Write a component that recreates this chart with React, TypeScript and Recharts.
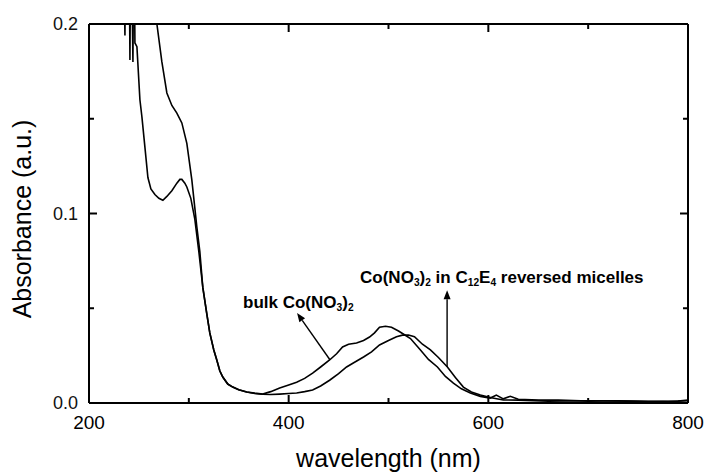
import { LineChart, Line, XAxis, YAxis, ReferenceLine, ReferenceDot } from "recharts";

// wavelength (nm) / absorbance readings, bulk Co(NO3)2
const bulkWavelength = [
    234, 236, 237, 240, 241, 242, 244, 245, 246, 248, 251, 253, 256, 259, 262, 266, 270, 274, 278, 283,
    288, 291, 293, 296, 298, 302, 306, 310, 314, 318, 321, 325, 328, 331, 334, 339, 344, 350, 358, 366,
    374, 382, 391, 400, 408, 416, 424, 432, 441, 448, 454, 460, 468, 475, 481, 486, 491, 497, 503, 510,
    516, 522, 532, 540, 549, 557, 565, 573, 582, 592, 602, 608, 615, 622, 630, 650, 670, 700, 730, 760,
    790, 800,
];
const bulkAbsorbance = [
    0.26, 0.194, 0.26, 0.26, 0.181, 0.26, 0.18, 0.26, 0.19, 0.188, 0.16, 0.151, 0.135, 0.119, 0.113, 0.11, 0.108, 0.107, 0.109, 0.112,
    0.116, 0.118, 0.118, 0.116, 0.114, 0.108, 0.097, 0.08, 0.061, 0.047, 0.037, 0.028, 0.0227, 0.017, 0.0137, 0.01, 0.0084, 0.007, 0.0058, 0.0052,
    0.0047, 0.006, 0.0079, 0.0095, 0.011, 0.013, 0.0158, 0.019, 0.0227, 0.026, 0.0296, 0.031, 0.0317, 0.033, 0.0348, 0.037, 0.04, 0.0405, 0.04, 0.038,
    0.036, 0.034, 0.028, 0.023, 0.019, 0.014, 0.0105, 0.0075, 0.0053, 0.0035, 0.0026, 0.0042, 0.0022, 0.0035, 0.002, 0.0015, 0.0015, 0.001, 0.0012, 0.0008,
    0.001, 0.0015,
];

// Co(NO3)2 in C12E4 reversed micelles
const micelleWavelength = [
    262, 268, 273, 278, 283, 288, 293, 298, 303, 306, 308, 311, 314, 318, 321, 325, 328, 331, 334, 339,
    344, 350, 358, 366, 374, 382, 391, 400, 408, 416, 424, 432, 441, 450, 458, 466, 475, 483, 491, 500,
    508, 514, 520, 526, 534, 542, 550, 559, 567, 575, 583, 592, 603, 615, 630, 660, 700, 740, 780, 800,
];
const micelleAbsorbance = [
    0.23, 0.2, 0.18, 0.1636, 0.157, 0.153, 0.1478, 0.137, 0.1177, 0.103, 0.093, 0.08, 0.061, 0.047, 0.037, 0.028, 0.0227, 0.017, 0.0137, 0.01,
    0.0084, 0.007, 0.0058, 0.005, 0.0046, 0.0045, 0.0047, 0.005, 0.0053, 0.006, 0.0069, 0.009, 0.012, 0.0155, 0.019, 0.0215, 0.0243, 0.027, 0.0306, 0.033,
    0.035, 0.0358, 0.0359, 0.035, 0.031, 0.028, 0.024, 0.019, 0.0135, 0.0084, 0.0058, 0.0042, 0.0028, 0.0016, 0.0015, 0.001, 0.0012, 0.001, 0.0008, 0.0012,
];

const xTicks = [200, 300, 400, 500, 600, 700, 800];
const yTicks = [0, 0.05, 0.1, 0.15, 0.2];

const bulkData = bulkWavelength.map((wl, i) => ({ wl, abs: bulkAbsorbance[i] }));
const micelleData = micelleWavelength.map((wl, i) => ({ wl, abs: micelleAbsorbance[i] }));

const FONT = "'Liberation Sans', Arial, Helvetica, sans-serif";

const isMajorX = (v: number) => v % 200 === 0;
const isMajorY = (v: number) => Math.round(v * 100) % 10 === 0;

function BottomTick({ x, y, payload }: any) {
    const major = isMajorX(payload.value);
    return (
        <g>
            <line x1={x} x2={x} y1={y} y2={y - (major ? 8 : 5)} stroke="#000" strokeWidth={2} />
            {major && (
                <text x={x} y={y + 26} textAnchor="middle" fontSize={19} fontFamily={FONT} fill="#000">
                    {payload.value}
                </text>
            )}
        </g>
    );
}

function TopTick({ x, y, payload }: any) {
    const major = isMajorX(payload.value);
    return <line x1={x} x2={x} y1={y} y2={y + (major ? 8 : 5)} stroke="#000" strokeWidth={2} />;
}

function LeftTick({ x, y, payload }: any) {
    const major = isMajorY(payload.value);
    return (
        <g>
            <line x1={x} x2={x + (major ? 8 : 5)} y1={y} y2={y} stroke="#000" strokeWidth={2} />
            {major && (
                <text x={x - 11} y={y + 6} textAnchor="end" fontSize={18} fontFamily={FONT} fill="#111">
                    {payload.value.toFixed(1)}
                </text>
            )}
        </g>
    );
}

function RightTick({ x, y, payload }: any) {
    const major = isMajorY(payload.value);
    return <line x1={x} x2={x - (major ? 8 : 5)} y1={y} y2={y} stroke="#000" strokeWidth={2} />;
}

function Arrow(props: any) {
    const { x1, y1, x2, y2 } = props;
    // head sits at (x2, y2)
    const ang = Math.atan2(y2 - y1, x2 - x1);
    const len = 9;
    const w = 3.5;
    const bx = x2 - len * Math.cos(ang);
    const by = y2 - len * Math.sin(ang);
    const px = -Math.sin(ang) * w;
    const py = Math.cos(ang) * w;
    return (
        <g>
            <line x1={x1} y1={y1} x2={bx} y2={by} stroke="#000" strokeWidth={1.4} />
            <polygon points={`${x2},${y2} ${bx + px},${by + py} ${bx - px},${by - py}`} fill="#000" />
        </g>
    );
}

const sub = { fontSize: "0.6em" };

function MicelleLabel({ cx, cy }: any) {
    return (
        <text x={cx} y={cy + 6} fontSize={17} fontWeight="bold" fontFamily={FONT} fill="#000">
            <tspan>Co(NO</tspan>
            <tspan style={sub} dy={3}>3</tspan>
            <tspan dy={-3}>)</tspan>
            <tspan style={sub} dy={3}>2</tspan>
            <tspan dy={-3}> in C</tspan>
            <tspan style={sub} dy={3}>12</tspan>
            <tspan dy={-3}>E</tspan>
            <tspan style={sub} dy={3}>4</tspan>
            <tspan dy={-3}> reversed micelles</tspan>
        </text>
    );
}

function BulkLabel({ cx, cy }: any) {
    return (
        <text x={cx} y={cy + 6} fontSize={17} fontWeight="bold" fontFamily={FONT} fill="#000">
            <tspan>bulk Co(NO</tspan>
            <tspan style={sub} dy={3}>3</tspan>
            <tspan dy={-3}>)</tspan>
            <tspan style={sub} dy={3}>2</tspan>
        </text>
    );
}

function XTitle({ viewBox }: any) {
    const { x, width } = viewBox;
    return (
        <text x={x + width / 2} y={467} textAnchor="middle" fontSize={25} fontFamily={FONT} fill="#000">
            wavelength (nm)
        </text>
    );
}

function YTitle() {
    return (
        <text
            x={0}
            y={0}
            transform="translate(31, 219) rotate(-90)"
            textAnchor="middle"
            fontSize={25}
            fontFamily={FONT}
            fill="#000"
        >
            Absorbance (a.u.)
        </text>
    );
}

export default function App() {
    return (
        <div style={{ position: "absolute", left: 0, top: 0, width: 707, height: 474, background: "#fff" }}>
            <LineChart width={707} height={474} margin={{ top: 23, right: 18, bottom: 0, left: 0 }}>
                <XAxis
                    dataKey="wl"
                    type="number"
                    domain={[200, 800]}
                    ticks={xTicks}
                    allowDataOverflow
                    height={71}
                    tickSize={0}
                    tickMargin={0}
                    tickLine={false}
                    axisLine={{ stroke: "#000", strokeWidth: 2 }}
                    tick={<BottomTick />}
                    label={<XTitle />}
                />
                <XAxis
                    xAxisId="top"
                    dataKey="wl"
                    orientation="top"
                    type="number"
                    domain={[200, 800]}
                    ticks={xTicks}
                    allowDataOverflow
                    height={1}
                    tickSize={0}
                    tickMargin={0}
                    tickLine={false}
                    axisLine={{ stroke: "#000", strokeWidth: 2 }}
                    tick={<TopTick />}
                />
                <YAxis
                    type="number"
                    domain={[0, 0.2]}
                    ticks={yTicks}
                    allowDataOverflow
                    width={89}
                    tickSize={0}
                    tickMargin={0}
                    tickLine={false}
                    axisLine={{ stroke: "#000", strokeWidth: 2 }}
                    tick={<LeftTick />}
                    label={<YTitle />}
                />
                <YAxis
                    yAxisId="right"
                    orientation="right"
                    type="number"
                    domain={[0, 0.2]}
                    ticks={yTicks}
                    allowDataOverflow
                    width={1}
                    tickSize={0}
                    tickMargin={0}
                    tickLine={false}
                    axisLine={{ stroke: "#000", strokeWidth: 2 }}
                    tick={<RightTick />}
                />
                <Line
                    data={bulkData}
                    dataKey="abs"
                    type="linear"
                    stroke="#000"
                    strokeWidth={1.6}
                    dot={false}
                    isAnimationActive={false}
                />
                <Line
                    data={micelleData}
                    dataKey="abs"
                    type="linear"
                    stroke="#000"
                    strokeWidth={1.6}
                    dot={false}
                    isAnimationActive={false}
                />
                {/* invisible copy so the top / right frame axes get drawn */}
                <Line
                    xAxisId="top"
                    yAxisId="right"
                    data={micelleData}
                    dataKey="abs"
                    type="linear"
                    stroke="none"
                    dot={false}
                    activeDot={false}
                    isAnimationActive={false}
                />
                <ReferenceLine segment={[{ x: 441.5, y: 0.0227 }, { x: 408.4, y: 0.0475 }]} shape={<Arrow />} />
                <ReferenceLine segment={[{ x: 558.7, y: 0.019 }, { x: 558.7, y: 0.0595 }]} shape={<Arrow />} />
                <ReferenceDot x={354.3} y={0.0533} r={0} shape={<BulkLabel />} />
                <ReferenceDot x={471.5} y={0.0665} r={0} shape={<MicelleLabel />} />
            </LineChart>
        </div>
    );
}
